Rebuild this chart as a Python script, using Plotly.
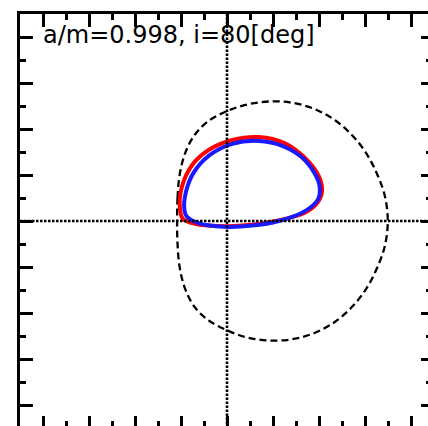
import plotly.graph_objects as go

# Shadow boundary (dashed), units of M
shadow_x = [-2.17, -2.15, -2.06, -1.82, -1.4, -0.8, 0.0, 0.9, 1.9, 2.9, 3.85, 4.7, 5.45, 6.05, 6.5, 6.86, 6.99,
            6.86, 6.5, 6.05, 5.45, 4.7, 3.85, 2.9, 1.9, 0.9, 0.0, -0.8, -1.4, -1.82, -2.06, -2.15, -2.17]
shadow_y = [0.0, 1.0, 2.0, 2.95, 3.75, 4.35, 4.78, 5.07, 5.2, 5.13, 4.85, 4.38, 3.72, 2.95, 2.1, 1.1, 0.0,
            -1.1, -2.1, -2.95, -3.72, -4.38, -4.85, -5.13, -5.2, -5.07, -4.75, -4.32, -3.75, -2.95, -2.0, -1.0, 0.0]

# Red loop
red_x = [-2.04, -1.96, -1.49, -0.78, 0.23, 1.38, 2.52, 3.37, 4.0, 4.13, 3.93, 3.38, 2.11, 0.66, -0.36, -1.35, -1.9, -2.04]
red_y = [0.48, 1.49, 2.47, 3.1, 3.52, 3.65, 3.38, 2.76, 1.93, 1.28, 0.79, 0.36, 0.0, -0.2, -0.22, -0.13, 0.07, 0.48]

# Blue loop
blue_x = [-1.86, -1.78, -1.47, -0.77, 0.23, 1.38, 2.4, 3.25, 3.82, 4.03, 3.95, 3.39, 2.25, 1.1, -0.14, -1.2, -1.75, -1.86]
blue_y = [0.55, 1.28, 2.07, 2.85, 3.35, 3.48, 3.27, 2.77, 2.05, 1.49, 0.93, 0.43, 0.0, -0.2, -0.25, -0.1, 0.2, 0.55]

label = "a/m=0.998, i=80[deg]"

W, H = 428, 426
L, T = 20, 14
PX_PER_M = 23.0
x_range = [-9, -9 + (W - L) / PX_PER_M]
y_range = [9 - (H - T) / PX_PER_M, 9]

fig = go.Figure()

# dotted axes lines through origin
fig.add_trace(go.Scatter(x=[-9, 9], y=[0, 0], mode="lines", xaxis="x2", yaxis="y",
                         line=dict(color="black", width=2.6, dash="2.5px,1.5px"), hoverinfo="skip"))
fig.add_trace(go.Scatter(x=[0, 0], y=[-9, 9], mode="lines", xaxis="x", yaxis="y2",
                         line=dict(color="black", width=2.6, dash="2.5px,1.5px"), hoverinfo="skip"))

fig.add_trace(go.Scatter(x=shadow_x, y=shadow_y, mode="lines",
                         line=dict(color="black", width=2.3, dash="7px,4px", shape="spline", smoothing=1.0)))
fig.add_trace(go.Scatter(x=red_x, y=red_y, mode="lines",
                         line=dict(color="#ff0000", width=4, shape="spline", smoothing=1.0)))
fig.add_trace(go.Scatter(x=blue_x, y=blue_y, mode="lines",
                         line=dict(color="#1a1aff", width=4, shape="spline", smoothing=1.0)))

common = dict(showgrid=False, zeroline=False, showticklabels=False, tick0=0, dtick=2,
              ticks="inside", tickcolor="black")

fig.update_layout(
    width=W, height=H,
    margin=dict(l=L, r=0, t=T, b=0, pad=0),
    paper_bgcolor="white", plot_bgcolor="white",
    showlegend=False,
    xaxis=dict(range=x_range, side="top", anchor="y", showline=True, linecolor="black", linewidth=3,
               ticklen=13, tickwidth=2.5,
               minor=dict(dtick=1, tick0=0, ticks="inside", ticklen=6, tickwidth=2.5, tickcolor="black"),
               **common),
    xaxis2=dict(range=x_range, side="bottom", anchor="y", overlaying="x", showline=False,
                ticklen=10, tickwidth=2.5,
                minor=dict(dtick=1, tick0=0, ticks="inside", ticklen=5, tickwidth=2.5, tickcolor="black"),
                **common),
    yaxis=dict(range=y_range, side="left", anchor="x", showline=True, linecolor="black", linewidth=3,
               ticklen=13, tickwidth=2.5,
               minor=dict(dtick=1, tick0=0, ticks="inside", ticklen=6, tickwidth=2.5, tickcolor="black"),
               **common),
    yaxis2=dict(range=y_range, side="right", anchor="x", overlaying="y", showline=False,
                ticklen=7, tickwidth=2.5,
                minor=dict(dtick=1, tick0=0, ticks="inside", ticklen=2.5, tickwidth=2.5, tickcolor="black"),
                **common),
    annotations=[dict(text=label, x=-8.1, y=8.1, xref="x", yref="y", xanchor="left", yanchor="middle",
                      showarrow=False, font=dict(family="DejaVu Sans", size=24, color="black"))],
)

fig.write_html("out.html")
